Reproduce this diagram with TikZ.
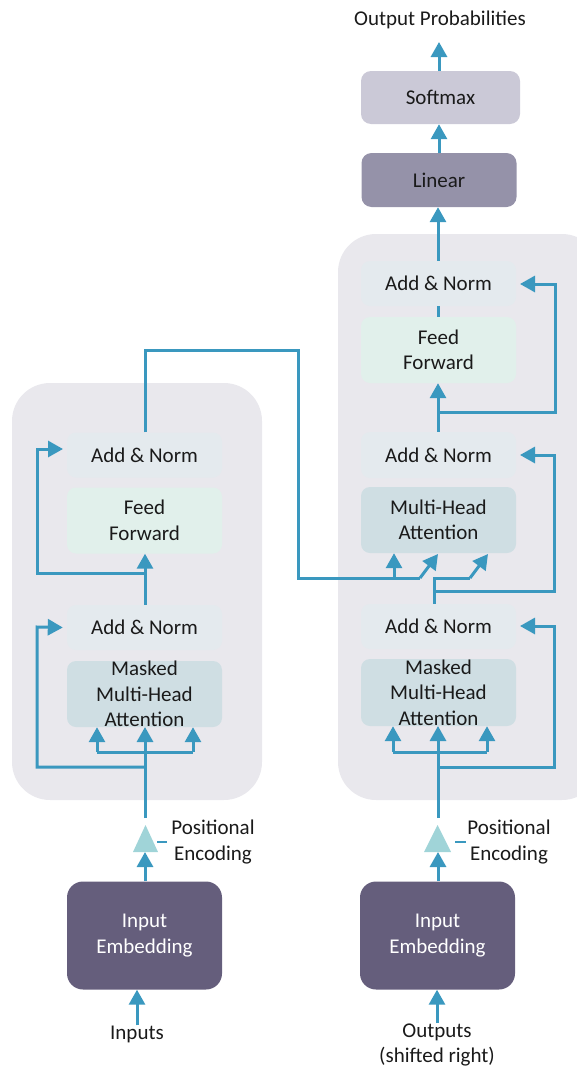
\documentclass[tikz,border=0pt]{standalone}
\usepackage{fontspec}
\setmainfont{Carlito}
\usetikzlibrary{arrows.meta}
\definecolor{ln}{HTML}{3A98BF}
\definecolor{panel}{HTML}{E9E8ED}
\definecolor{anfill}{HTML}{E4EAEE}
\definecolor{fffill}{HTML}{E1F0EB}
\definecolor{mhafill}{HTML}{CFDEE3}
\definecolor{smfill}{HTML}{CBC9D7}
\definecolor{linfill}{HTML}{9592A9}
\definecolor{embfill}{HTML}{655E7C}
\definecolor{pefill}{HTML}{A0D4D8}
\definecolor{txt}{HTML}{1A1A1A}
\begin{document}
\begin{tikzpicture}[x=1pt,y=-1pt,
  lbl/.style={font=\fontsize{21}{25.5}\selectfont, text=txt, align=center, inner sep=0pt},
  box/.style={lbl, rounded corners=9pt, minimum width=155pt},
  anbox/.style={box, fill=anfill, minimum height=45pt},
  ffbox/.style={box, fill=fffill, minimum height=66pt},
  mhabox/.style={box, fill=mhafill, minimum height=66pt},
  embbox/.style={box, fill=embfill, text=white, minimum height=108pt, rounded corners=16pt},
  conn/.style={draw=ln, line width=3pt},
  arr/.style={conn, -{Triangle[width=16pt,length=15pt]}},
  pe/.style={fill=pefill},
  dashln/.style={draw=ln, line width=2pt},
  panelbg/.style={fill=panel, rounded corners=38pt}]
\useasboundingbox (0,0) rectangle (577,1068);
\begin{scope}
\clip (0,0) rectangle (577,1068);
\fill[panelbg] (12,383) rectangle (262,800);
\fill[panelbg] (338,234) rectangle (600,800);
\end{scope}

% ---------- encoder ----------
\node[embbox] (eemb) at (144.5,935.5) {Input\\Embedding};
\node[mhabox, minimum height=66pt] (emmha) at (144.5,694) {Masked\\Multi-Head\\Attention};
\node[anbox] (ean1) at (144.5,627.5) {Add \& Norm};
\node[ffbox] (eff) at (144.5,520.5) {Feed\\Forward};
\node[anbox] (ean2) at (144.5,455) {Add \& Norm};
\node[lbl] (inputs) at (137,1034) {Inputs};
\node[lbl] (epetxt) at (213,842) {Positional\\Encoding};
\fill[pe] (133,852) -- (145.5,825) -- (158,852) -- cycle;
\coordinate (eapex) at (145,825);
\coordinate (ebase) at (145,852);
\coordinate (edash1) at (157,842);
\coordinate (edash2) at (167,842);
\draw[dashln] (edash1) -- (edash2);

% ---------- decoder ----------
\node[embbox] (demb) at (437.5,935.5) {Input\\Embedding};
\node[mhabox, minimum height=67pt] (dmmha) at (438.5,692.5) {Masked\\Multi-Head\\Attention};
\node[anbox] (dan1) at (438.5,626.5) {Add \& Norm};
\node[mhabox] (dmha) at (438.5,520) {Multi-Head\\Attention};
\node[anbox, minimum height=46pt] (dan2) at (438.5,455) {Add \& Norm};
\node[ffbox] (dff) at (438.5,350) {Feed\\Forward};
\node[anbox] (dan3) at (438.5,283.5) {Add \& Norm};
\node[box, fill=linfill, minimum height=54pt, rounded corners=10pt] (lin) at (439,180) {Linear};
\node[box, fill=smfill, minimum width=159pt, minimum height=53pt, rounded corners=10pt] (sm) at (440.5,97.5) {Softmax};
\node[lbl] (outprob) at (440,20) {Output Probabilities};
\node[lbl] (outputs) at (437,1045) {Outputs\\(shifted right)};
\node[lbl] (dpetxt) at (509,842) {Positional\\Encoding};
\fill[pe] (424,852) -- (437.5,825) -- (451,852) -- cycle;
\coordinate (dapex) at (438,825);
\coordinate (dbase) at (438,852);
\coordinate (ddash1) at (455,842);
\coordinate (ddash2) at (466,842);
\draw[dashln] (ddash1) -- (ddash2);
\coordinate (optip) at (439,42);

% ---------- encoder connectors ----------
\draw[arr] (inputs.north) -- (inputs.north |- eemb.south);
\draw[arr] (eemb.north -| ebase) -- (ebase);
\draw[conn] (145,818) -- (145,752);
\draw[arr] (145,752) -- (145,727);
\coordinate (ebl) at (97,752);
\coordinate (ebr) at (193,752);
\draw[conn] (ebl) -- (ebr);
\draw[arr] (ebl) -- (ebl |- emmha.south);
\draw[arr] (ebr) -- (ebr |- emmha.south);
\coordinate (eres1) at (145,767);
\coordinate (eres1c) at (37,767);
\draw[arr] (eres1) -- (eres1c) -- (37,627) -- ([xshift=-4pt]ean1.west);
\draw[arr] (ean1.north -| eapex) -- (eff.south -| eapex);
\coordinate (eres2) at (145,573);
\draw[arr] (eres2) -- (37,573) -- (37,449) -- (63,449);
% encoder output to decoder
\coordinate (ecross) at (298,578);
\coordinate (ekv) at (420,578);
\coordinate (ekvtip) at (438,554);
\coordinate (eq) at (394,578);
\draw[conn] (ean2.north -| eapex) -- (145,350) -- (298,350) -- (ecross) -- (ekv);
\draw[arr] (ekv) -- (ekvtip);
\draw[arr] (eq) -- (eq |- dmha.south);

% ---------- decoder connectors ----------
\draw[arr] (outputs.north) -- (outputs.north |- demb.south);
\draw[arr] (demb.north -| dbase) -- (dbase);
\draw[conn] (438,818) -- (438,752);
\draw[arr] (438,752) -- (438,726);
\coordinate (dbl) at (393,752);
\coordinate (dbr) at (487,752);
\draw[conn] (dbl) -- (dbr);
\draw[arr] (dbl) -- (dbl |- dmmha.south);
\draw[arr] (dbr) -- (dbr |- dmmha.south);
\draw[arr] (438,767) -- (554,767) -- (554,626) -- (520,626);
% from first add & norm
\coordinate (dq) at (434,578);
\coordinate (dqr) at (470,578);
\coordinate (dqtip) at (488,554);
\draw[conn] (dan1.north -| dq) -- (dq) -- (dqr);
\draw[arr] (dqr) -- (dqtip);
\draw[arr] (434,591) -- (554,591) -- (554,455) -- (520,455);
% second add & norm to feed forward
\draw[arr] (dan2.north -| dapex) -- (dff.south -| dapex);
\draw[arr] (438,412) -- (555,412) -- (555,284) -- (520,284);
\draw[conn] (dff.north -| dapex) -- (dan3.south -| dapex);
\draw[arr] (dan3.north -| dapex) -- (lin.south -| dapex);
\draw[arr] (lin.north) -- (sm.south -| lin.north);
\draw[arr] (sm.north -| optip) -- (optip);
\end{tikzpicture}
\end{document}
